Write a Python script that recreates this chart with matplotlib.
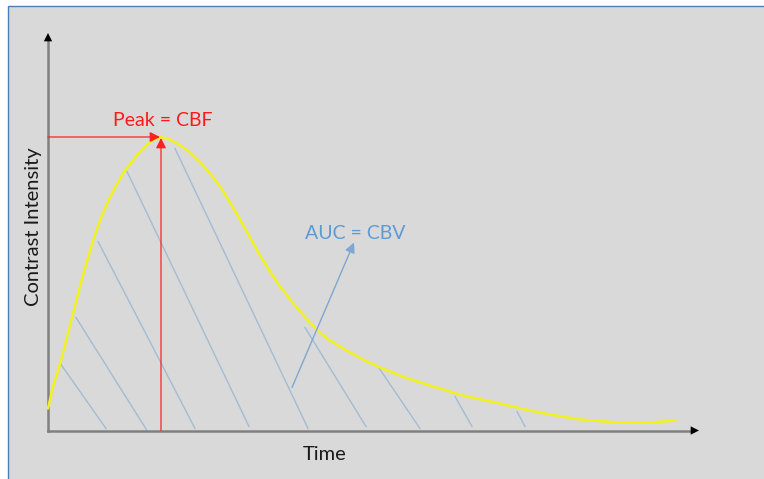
import matplotlib
matplotlib.use('Agg')
import matplotlib.pyplot as plt
from matplotlib.patches import Rectangle

plt.rcParams['font.family'] = ['Lato', 'DejaVu Sans']

# concentration-time curve (time units, intensity units)
time = [0, 5, 13, 24, 33, 42, 50, 59, 67, 75, 84, 92, 99, 105, 112,
        122, 132, 142, 152, 162, 172, 182, 192, 202, 212, 222, 232, 242, 252,
        262, 272, 282, 292, 302, 317, 332, 357, 382, 415, 452, 482, 502, 532,
        569, 602, 628]
intensity = [22, 44, 70, 113, 148, 180, 205, 227, 243, 257, 269, 279, 286, 290, 293.5,
             291, 285.5, 278, 268.5, 257, 244, 228, 211, 193, 175, 159, 144, 131, 119,
             108, 98, 90, 84, 78, 70, 63, 53, 45, 35, 27, 20, 16, 11,
             8, 8, 10]

# hatch segments under the curve: (top time, top intensity, bottom time, bottom intensity)
hatch_top_t = [13, 28, 50, 79, 127, 257, 330, 407, 469]
hatch_top_i = [66, 113, 189, 259, 282, 103, 64, 34, 19]
hatch_bot_t = [58, 99, 147, 201, 260, 318, 372, 424, 477]
hatch_bot_i = [2, 0, 2, 4, 2, 4, 2, 4, 4]

peak_t, peak_i = 112, 293.5
auc_arrow_from = (244, 43)
auc_arrow_to = (306, 188)
x_axis_end = 651
y_axis_end = 397.5

fig = plt.figure(figsize=(7.64, 4.79), dpi=100)
ax = fig.add_axes([0, 0, 1, 1])
ax.set_xlim(-48, 716)
ax.set_ylim(-48.5, 430.5)
ax.axis('off')

# grey slide background with blue frame on top/left
ax.add_patch(Rectangle((-40, -60), 900, 484.5, facecolor='#d9d9d9',
                       edgecolor='#4a7eb5', lw=1.0, zorder=0))

# hatching
for t0, i0, t1, i1 in zip(hatch_top_t, hatch_top_i, hatch_bot_t, hatch_bot_i):
    ax.plot([t0, t1], [i0, i1], color='#a3bcd4', lw=1.0, zorder=1)

# axes with arrows
ax.plot([0, x_axis_end - 6], [0, 0], color='#808080', lw=1.8, zorder=2)
ax.plot([0, 0], [0, y_axis_end - 6], color='#808080', lw=1.8, zorder=2)
head = dict(arrowstyle='-|>,head_length=0.6,head_width=0.3', color='black',
            mutation_scale=10, shrinkA=0, shrinkB=0, lw=0)
ax.annotate('', xy=(x_axis_end, 0), xytext=(x_axis_end - 10, 0), arrowprops=head)
ax.annotate('', xy=(0, y_axis_end), xytext=(0, y_axis_end - 10), arrowprops=head)

# curve
ax.plot(time, intensity, color='#f2f21e', lw=1.8, zorder=3,
        solid_capstyle='round', solid_joinstyle='round')

# peak markers
red = dict(arrowstyle='-|>,head_length=0.6,head_width=0.3', color='#ff2020',
           mutation_scale=10, shrinkA=0, shrinkB=0, lw=0.9)
ax.annotate('', xy=(peak_t, peak_i), xytext=(0, peak_i), arrowprops=red, zorder=4)
ax.annotate('', xy=(peak_t + 1, peak_i - 1), xytext=(peak_t + 1, 0), arrowprops=red, zorder=4)
ax.text(peak_t + 3, 310, 'Peak = CBF', color='#ff1a1a', fontsize=14,
        ha='center', va='center')

# AUC label
ax.annotate('', xy=auc_arrow_to, xytext=auc_arrow_from,
            arrowprops=dict(arrowstyle='-|>,head_length=0.6,head_width=0.3',
                            color='#7fa7d0', mutation_scale=10, shrinkA=0,
                            shrinkB=0, lw=1.0), zorder=4)
ax.text(307, 197, 'AUC = CBV', color='#5b9bd5', fontsize=14,
        ha='center', va='center')

# axis titles
ax.text(277, -24.5, 'Time', fontsize=14.5, ha='center', va='center', color='#1a1a1a')
ax.text(-15, 204, 'Contrast Intensity', fontsize=14.5, ha='center', va='center',
        rotation=90, color='#1a1a1a')

fig.savefig('out.png', dpi=100)
